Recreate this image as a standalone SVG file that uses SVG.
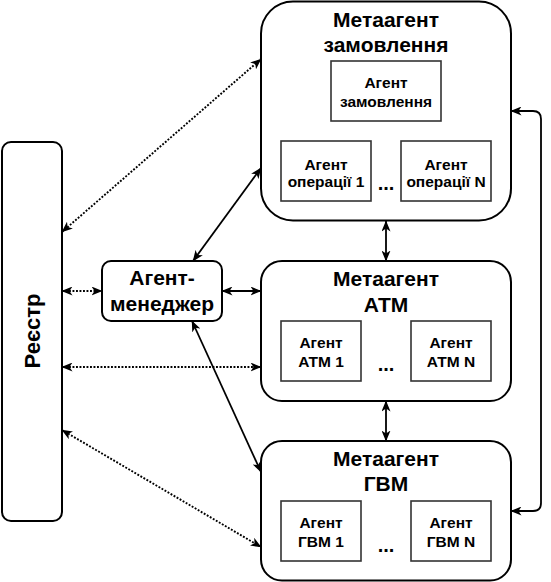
<svg xmlns="http://www.w3.org/2000/svg" width="551" height="582" viewBox="0 0 551 582">
<style>
text{font-family:"Liberation Sans",Arial,sans-serif;font-weight:bold;fill:#000;text-anchor:middle}
.big{font-size:21px}
.reg{font-size:22px}
.small{font-size:15.5px}
.dots{font-size:20px}
.outer{fill:#fff;stroke:#000;stroke-width:2}
.inner{fill:#fff;stroke:#333;stroke-width:1.6}
.solid{fill:none;stroke:#000;stroke-width:1.8;marker-start:url(#ah);marker-end:url(#ah)}
.dotted{fill:none;stroke:#000;stroke-width:1.9;stroke-dasharray:1.9 1.6;marker-start:url(#ah);marker-end:url(#ah)}
</style>
<defs>
<marker id="ah" viewBox="0 0 11 9" markerWidth="11" markerHeight="9" refX="10.5" refY="4.5" orient="auto-start-reverse" markerUnits="userSpaceOnUse">
<path d="M0,0 L11,4.5 L0,9 L3,4.5 z" fill="#000"/>
</marker>
</defs>
<rect width="551" height="582" fill="#fff"/>
<g id="connectors">
<path class="dotted" d="M62,232 L261,59"/>
<path class="dotted" d="M62,291 L102,291"/>
<path class="dotted" d="M62,367 L261,367"/>
<path class="dotted" d="M62,430 L261,547"/>
<path class="solid" d="M193,261 L261,168"/>
<path class="solid" d="M192,321 L261,472"/>
<path class="solid" d="M222,291 L261,291"/>
<path class="solid" d="M386,221 L386,261"/>
<path class="solid" d="M386,401 L386,441"/>
<path class="solid" d="M511,111 H533 Q541,111 541,119 V503 Q541,511 533,511 H511"/>
</g>
<g id="registry">
<rect class="outer" x="2" y="142" width="60" height="379" rx="9"/>
<text class="reg" transform="translate(32,331) rotate(-90)" x="0" y="8">Реєстр</text>
</g>
<g id="manager">
<rect class="outer" x="102" y="261" width="120" height="60" rx="9"/>
<text class="big" x="162" y="285">Агент-</text>
<text class="big" x="162" y="310.5">менеджер</text>
</g>
<g id="meta-order">
<rect class="outer" x="261" y="1.5" width="250" height="219" rx="32"/>
<text class="big" x="386" y="27">Метаагент</text>
<text class="big" x="386" y="52">замовлення</text>
</g>
<g id="agent-order">
<rect class="inner" x="331" y="61" width="110" height="60"/>
<text class="small" x="386" y="88">Агент</text>
<text class="small" x="386" y="106.5">замовлення</text>
</g>
<g id="agent-op1">
<rect class="inner" x="281" y="141" width="90" height="60"/>
<text class="small" x="326" y="169.5">Агент</text>
<text class="small" x="326" y="187">операції 1</text>
</g>
<g id="agent-opN">
<rect class="inner" x="401" y="141" width="90" height="60"/>
<text class="small" x="446" y="169.5">Агент</text>
<text class="small" x="446" y="187">операції N</text>
</g>
<text class="dots" x="386" y="190">...</text>
<g id="meta-atm">
<rect class="outer" x="261" y="261" width="250" height="140" rx="21"/>
<text class="big" x="386" y="286">Метаагент</text>
<text class="big" x="386" y="311.5">АТМ</text>
</g>
<g id="agent-atm1">
<rect class="inner" x="281" y="321" width="80" height="60"/>
<text class="small" x="321" y="348">Агент</text>
<text class="small" x="321" y="367">АТМ 1</text>
</g>
<g id="agent-atmN">
<rect class="inner" x="411" y="321" width="80" height="60"/>
<text class="small" x="451" y="348">Агент</text>
<text class="small" x="451" y="367">АТМ N</text>
</g>
<text class="dots" x="386" y="371">...</text>
<g id="meta-gvm">
<rect class="outer" x="261" y="441" width="250" height="139.5" rx="21"/>
<text class="big" x="386" y="466">Метаагент</text>
<text class="big" x="386" y="491">ГВМ</text>
</g>
<g id="agent-gvm1">
<rect class="inner" x="281" y="501" width="80" height="60"/>
<text class="small" x="321" y="528">Агент</text>
<text class="small" x="321" y="547">ГВМ 1</text>
</g>
<g id="agent-gvmN">
<rect class="inner" x="411" y="501" width="80" height="60"/>
<text class="small" x="451" y="528">Агент</text>
<text class="small" x="451" y="547">ГВМ N</text>
</g>
<text class="dots" x="386" y="552">...</text>
</svg>
